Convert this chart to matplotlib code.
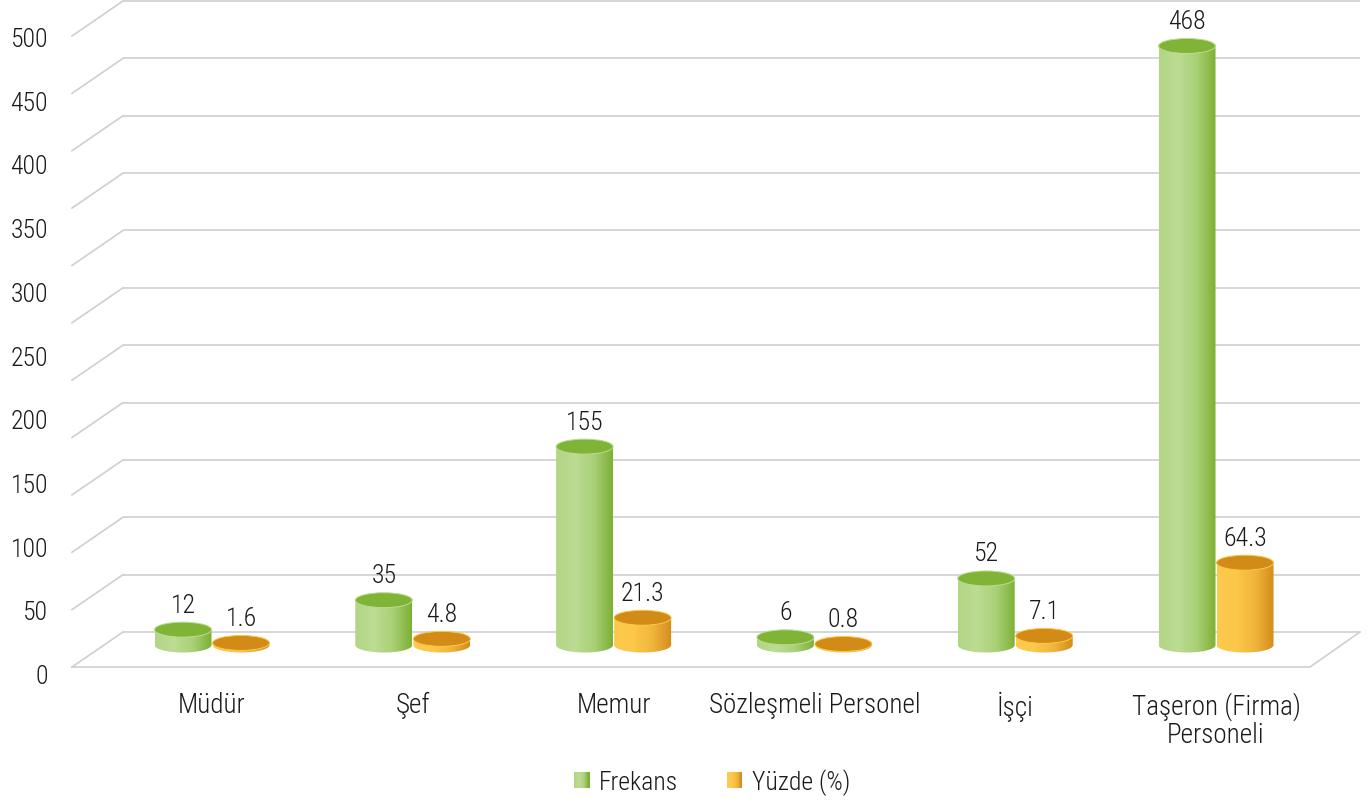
import numpy as np
import matplotlib
matplotlib.use("Agg")
import matplotlib.pyplot as plt
from matplotlib.patches import Ellipse, PathPatch, Rectangle
from matplotlib.path import Path
from matplotlib.legend_handler import HandlerBase
from matplotlib.colors import LinearSegmentedColormap

# ---------------- data ----------------
categories = ["Müdür", "Şef", "Memur", "Sözleşmeli Personel", "İşçi",
              "Taşeron (Firma)\nPersoneli"]
frekans = [12, 35, 155, 6, 52, 468]
yuzde = [1.6, 4.8, 21.3, 0.8, 7.1, 64.3]
series_names = ["Frekans", "Yüzde (%)"]
y_ticks = [0, 50, 100, 150, 200, 250, 300, 350, 400, 450, 500]
wall_grid = [0, 50, 100, 150, 200, 250, 300, 350, 400, 450, 500, 550]

# ---------------- layout / style ----------------
W, H, DPI = 1372, 804, 100
X0_PX, STEP_PX = 212.0, 200.8      # first category centre, category spacing
Y0_PX, PX_PER_UNIT = 646.0, 1.28    # bar base, vertical scale
BAR_W_PX = 57.0
BAR_OFF_PX = 29.0
ELL_HALF_PX = 7.5
BACK_Y0_PX, BACK_SCALE = 633.0, 1.1473
BACK_LEFT_PX, BACK_RIGHT_PX = 123.0, 1360.0
DEPTH_DX, DEPTH_DY = -51.0, 35.0
FLOOR_FRONT_RIGHT_PX = 1310.0
TICK_LABEL_RIGHT_PX = 48.0
TICK_Y0_PX, TICK_SCALE = 677.0, 1.274
CAT_LABEL_TOP_PX = 692.0

TEXT_COLOR = "#1a1a1a"
GRID_COLOR = "#cfcfcf"
green_body = ["#b2d585", "#bcdc93", "#a9d077", "#7cb033"]
green_top = "#80b437"
orange_body = ["#fdca4d", "#fcc84a", "#f0b53c", "#d38c1a"]
orange_top = "#d38b17"

plt.rcParams["font.family"] = ["Roboto Condensed", "Liberation Sans", "DejaVu Sans"]
plt.rcParams["font.weight"] = 300


def px2x(px):
    return (px - X0_PX) / STEP_PX


def py2y(py):
    return (Y0_PX - py) / PX_PER_UNIT


fig = plt.figure(figsize=(W / DPI, H / DPI), dpi=DPI)
ax = fig.add_axes([0, 0, 1, 1])
ax.set_xlim(px2x(0), px2x(W))
ax.set_ylim(py2y(H), py2y(0))
ax.set_autoscale_on(False)
ax.axis("off")

# ---------------- 3D walls / gridlines ----------------
for g in wall_grid:
    by = BACK_Y0_PX - BACK_SCALE * g
    ax.plot([px2x(BACK_LEFT_PX), px2x(BACK_RIGHT_PX)], [py2y(by), py2y(by)],
            color=GRID_COLOR, lw=1.2, zorder=1, solid_capstyle="butt")
    ax.plot([px2x(BACK_LEFT_PX + DEPTH_DX), px2x(BACK_LEFT_PX)],
            [py2y(by + DEPTH_DY), py2y(by)], color=GRID_COLOR, lw=1.2, zorder=1)
# floor
fy = BACK_Y0_PX + DEPTH_DY
ax.plot([px2x(BACK_LEFT_PX + DEPTH_DX), px2x(FLOOR_FRONT_RIGHT_PX), px2x(BACK_RIGHT_PX)],
        [py2y(fy), py2y(fy), py2y(BACK_Y0_PX)], color=GRID_COLOR, lw=1.2, zorder=1)

# ---------------- cylinders ----------------
bw = BAR_W_PX / STEP_PX
eh = ELL_HALF_PX / PX_PER_UNIT
grad = np.linspace(0, 1, 256).reshape(1, -1)


def cylinder(xc, val, body_colors, top_color, z):
    cmap = LinearSegmentedColormap.from_list("c", body_colors)
    x0, x1 = xc - bw / 2, xc + bw / 2
    t = np.linspace(np.pi, 2 * np.pi, 40)
    arc = np.column_stack([xc + bw / 2 * np.cos(t), 0 + eh * np.sin(t)])
    verts = np.vstack([[[x0, val]], arc, [[x1, val]], [[x0, val]]])
    codes = [Path.MOVETO] + [Path.LINETO] * (len(verts) - 2) + [Path.CLOSEPOLY]
    clip = PathPatch(Path(verts, codes), transform=ax.transData,
                     facecolor="none", edgecolor="none")
    im = ax.imshow(grad, extent=[x0, x1, -eh, val], aspect="auto", cmap=cmap,
                   zorder=z, interpolation="bilinear")
    im.set_clip_path(clip)
    ax.add_patch(Ellipse((xc, val), bw, 2 * eh, facecolor=top_color,
                         edgecolor=body_colors[1], lw=0.7, zorder=z + 0.1))


for i, cat in enumerate(categories):
    xf = i - BAR_OFF_PX / STEP_PX
    xy = i + BAR_OFF_PX / STEP_PX
    cylinder(xf, frekans[i], green_body, green_top, 3 + i * 0.5)
    cylinder(xy, yuzde[i], orange_body, orange_top, 3.2 + i * 0.5)
    for xv, v in ((xf, frekans[i]), (xy, yuzde[i])):
        ax.annotate(f"{v:g}", (xv, v), xytext=(0, 18), textcoords="offset points",
                    ha="center", va="center", fontsize=18.5, color=TEXT_COLOR, zorder=10)
    ax.text(i, py2y(CAT_LABEL_TOP_PX), cat, ha="center", va="top",
            fontsize=19.5, color=TEXT_COLOR, linespacing=1.05, multialignment="center")

# y labels
for t in y_ticks:
    ax.text(px2x(TICK_LABEL_RIGHT_PX), py2y(TICK_Y0_PX - TICK_SCALE * t), f"{t}",
            ha="right", va="center", fontsize=18.5, color=TEXT_COLOR)


# ---------------- legend ----------------
class GradHandler(HandlerBase):
    def __init__(self, colors):
        super().__init__()
        self.cmap = LinearSegmentedColormap.from_list("l", colors)

    def create_artists(self, legend, orig_handle, xdescent, ydescent,
                       width, height, fontsize, trans):
        n = 14
        arts = []
        for k in range(n):
            arts.append(Rectangle((-xdescent + width * k / n, -ydescent),
                                  width / n * 1.08, height,
                                  facecolor=self.cmap(k / (n - 1)),
                                  edgecolor="none", transform=trans))
        return arts


h1 = Rectangle((0, 0), 1, 1)
h2 = Rectangle((0, 0), 1, 1)
fig.legend([h1, h2], series_names, loc="center", bbox_to_anchor=(712 / W, 1 - 783 / H),
           ncol=2, frameon=False, fontsize=18.5, handlelength=0.6, handleheight=0.6,
           handletextpad=0.36, columnspacing=1.9, labelcolor=TEXT_COLOR,
           handler_map={h1: GradHandler(green_body), h2: GradHandler(orange_body)})

fig.savefig("out.png", dpi=DPI)
